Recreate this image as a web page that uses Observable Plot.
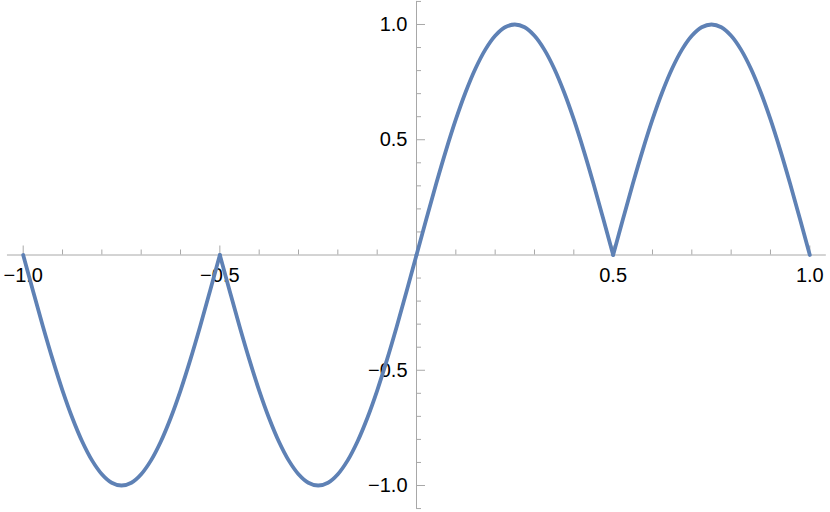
<!DOCTYPE html>
<html>
<head>
<meta charset="utf-8">
<script src="https://cdn.jsdelivr.net/npm/d3@7"></script>
<script src="https://cdn.jsdelivr.net/npm/@observablehq/plot@0.6"></script>
<style>
  html, body { margin: 0; padding: 0; background: #fff; }
  #chart svg { display: block; }
</style>
</head>
<body>
<div id="chart"></div>
<script>
const sampleX = [
  -1, -0.975, -0.95, -0.925, -0.9, -0.875, -0.85, -0.825, -0.8, -0.775,
  -0.75, -0.725, -0.7, -0.675, -0.65, -0.625, -0.6, -0.575, -0.55, -0.525,
  -0.5, -0.475, -0.45, -0.425, -0.4, -0.375, -0.35, -0.325, -0.3, -0.275,
  -0.25, -0.225, -0.2, -0.175, -0.15, -0.125, -0.1, -0.075, -0.05, -0.025,
  0, 0.025, 0.05, 0.075, 0.1, 0.125, 0.15, 0.175, 0.2, 0.225,
  0.25, 0.275, 0.3, 0.325, 0.35, 0.375, 0.4, 0.425, 0.45, 0.475,
  0.5, 0.525, 0.55, 0.575, 0.6, 0.625, 0.65, 0.675, 0.7, 0.725,
  0.75, 0.775, 0.8, 0.825, 0.85, 0.875, 0.9, 0.925, 0.95, 0.975, 1
];
const sampleY = [
  0, -0.156, -0.309, -0.454, -0.588, -0.707, -0.809, -0.891, -0.951, -0.988,
  -1, -0.988, -0.951, -0.891, -0.809, -0.707, -0.588, -0.454, -0.309, -0.156,
  0, -0.156, -0.309, -0.454, -0.588, -0.707, -0.809, -0.891, -0.951, -0.988,
  -1, -0.988, -0.951, -0.891, -0.809, -0.707, -0.588, -0.454, -0.309, -0.156,
  0, 0.156, 0.309, 0.454, 0.588, 0.707, 0.809, 0.891, 0.951, 0.988,
  1, 0.988, 0.951, 0.891, 0.809, 0.707, 0.588, 0.454, 0.309, 0.156,
  0, 0.156, 0.309, 0.454, 0.588, 0.707, 0.809, 0.891, 0.951, 0.988,
  1, 0.988, 0.951, 0.891, 0.809, 0.707, 0.588, 0.454, 0.309, 0.156, 0
];
// cusp positions splitting the curve into smooth arches
const cusps = [-1, -0.5, 0, 0.5, 1];

const xTicks = [-1, -0.5, 0.5, 1];
const xTickLabels = ["\u22121.0", "\u22120.5", "0.5", "1.0"];
const yTicks = [1, 0.5, -0.5, -1];
const yTickLabels = ["1.0", "0.5", "\u22120.5", "\u22121.0"];
const xMinor = [-0.9, -0.8, -0.7, -0.6, -0.4, -0.3, -0.2, -0.1, 0.1, 0.2, 0.3, 0.4, 0.6, 0.7, 0.8, 0.9];
const yMinor = [1.1, 0.9, 0.8, 0.7, 0.6, 0.4, 0.3, 0.2, 0.1, -0.1, -0.2, -0.3, -0.4, -0.6, -0.7, -0.8, -0.9, -1.1];

// build arches (cusp points shared by neighbouring arches)
const curve = [];
for (let a = 0; a < cusps.length - 1; a++) {
  sampleX.forEach((x, i) => {
    if (x >= cusps[a] - 1e-9 && x <= cusps[a + 1] + 1e-9) curve.push({x, y: sampleY[i], arch: a});
  });
}

const W = 830, H = 512;
const xDom = [-1.0577, 1.0526];
const yDom = [-1.1171, 1.1041];
const pxPerX = W / (xDom[1] - xDom[0]);
const pxPerY = H / (yDom[1] - yDom[0]);
const axisColor = "#a8a8a8";
const majorLen = 9, minorLen = 5;

const chart = Plot.plot({
  width: W,
  height: H,
  margin: 0,
  style: {fontFamily: "'Liberation Sans', Arial, sans-serif", background: "#fff"},
  x: {domain: xDom, range: [0, W], axis: null},
  y: {domain: yDom, axis: null},
  marks: [
    // axes lines
    Plot.ruleY([0], {x1: -1.04, x2: 1.042, stroke: axisColor, strokeWidth: 1}),
    Plot.ruleX([0], {y1: -1.1, y2: 1.1, stroke: axisColor, strokeWidth: 1}),
    // x ticks (pointing up)
    Plot.ruleX(xTicks, {x: d => d, y1: 0, y2: majorLen / pxPerY, stroke: axisColor}),
    Plot.ruleX(xMinor, {x: d => d, y1: 0, y2: minorLen / pxPerY, stroke: axisColor}),
    // y ticks (pointing right)
    Plot.ruleY(yTicks, {y: d => d, x1: 0, x2: majorLen / pxPerX, stroke: axisColor}),
    Plot.ruleY(yMinor, {y: d => d, x1: 0, x2: minorLen / pxPerX, stroke: axisColor}),
    // tick labels
    Plot.text(xTicks, {x: d => d, y: 0, dy: 21, text: (d, i) => xTickLabels[i], fontSize: 20, fill: "#000", textAnchor: "middle"}),
    Plot.text(yTicks, {x: 0, y: d => d, dx: -9, text: (d, i) => yTickLabels[i], fontSize: 20, fill: "#000", textAnchor: "end"}),
    // curve
    Plot.line(curve, {x: "x", y: "y", z: "arch", stroke: "#5e81b5", strokeWidth: 3.8, curve: "catmull-rom", strokeLinejoin: "round", strokeLinecap: "round"})
  ]
});
document.getElementById("chart").appendChild(chart);
</script>
</body>
</html>
